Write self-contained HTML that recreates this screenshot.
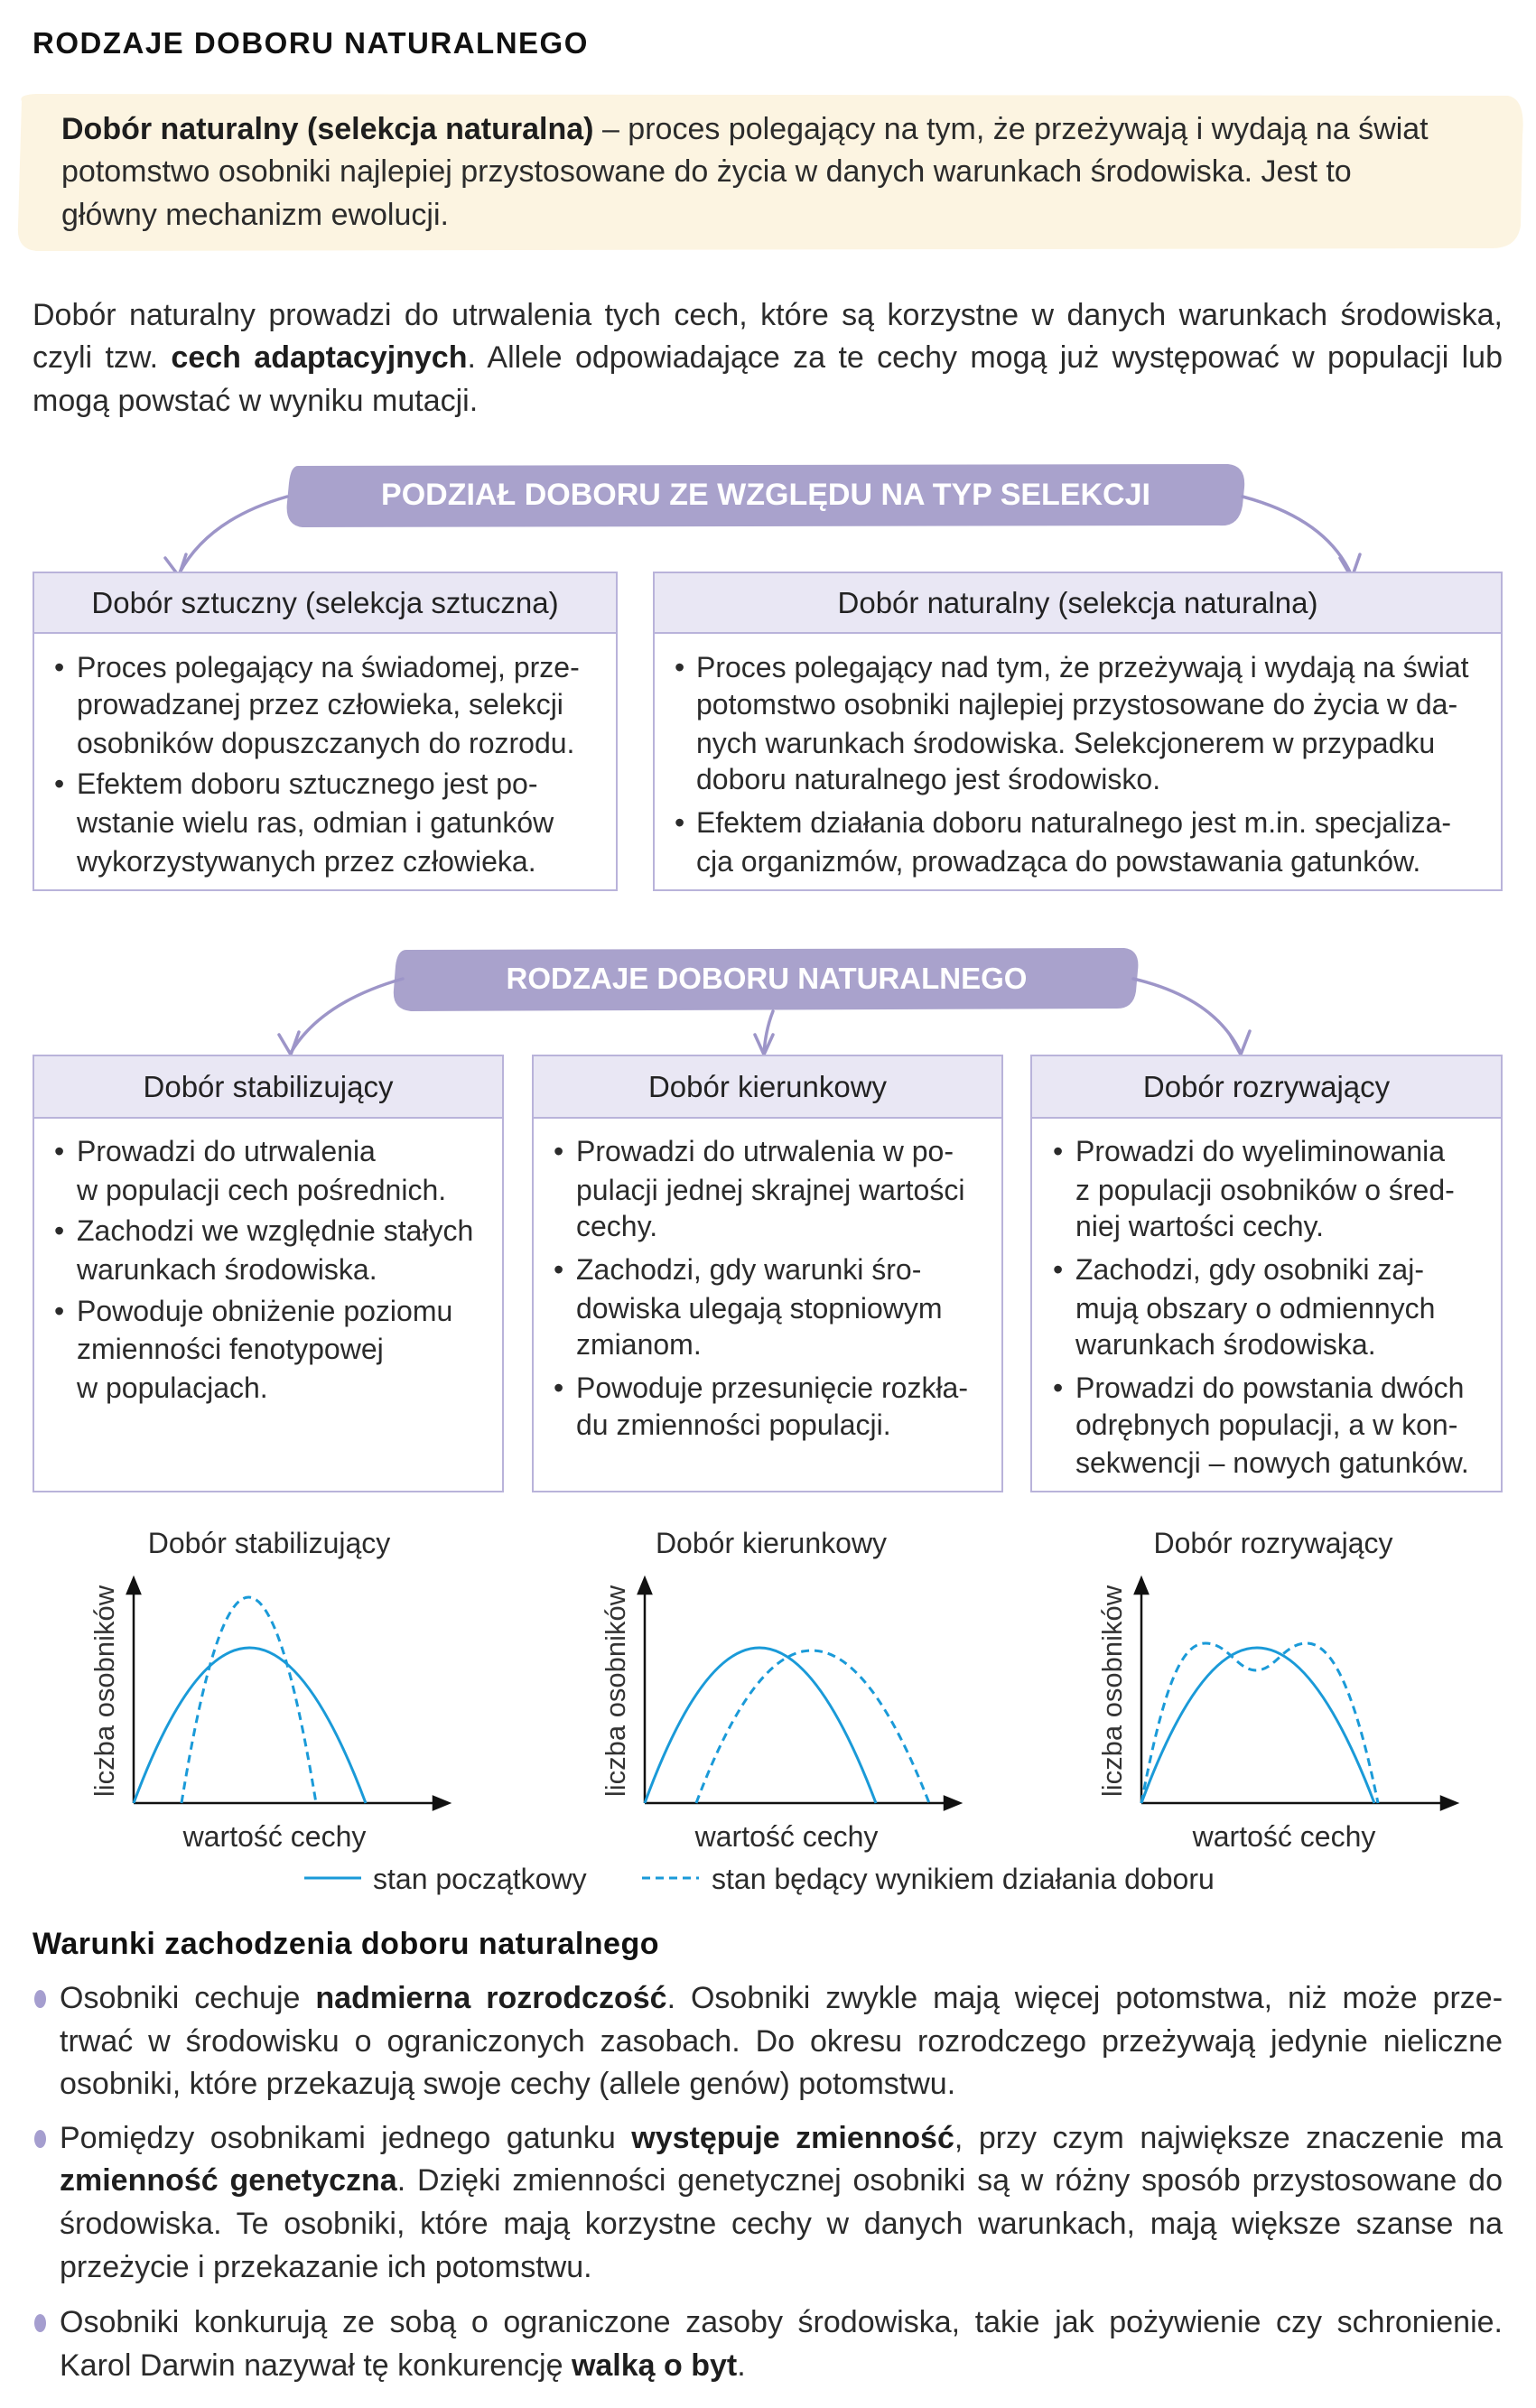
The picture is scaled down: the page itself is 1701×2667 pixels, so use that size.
<!DOCTYPE html>
<html><head><meta charset="utf-8">
<style>
body{margin:0;background:#fff;}
#p{position:relative;width:1701px;height:2667px;overflow:hidden;font-family:"Liberation Sans",sans-serif;color:#2b2b2b;}
.l{position:absolute;white-space:nowrap;line-height:1;}
.j{text-align:justify;text-align-last:justify;white-space:normal;}
b{font-weight:bold;color:#1e1e1e}
.box{position:absolute;border:2px solid #b9b3da;background:#fff;box-sizing:border-box;}
.hd{position:absolute;left:0;right:0;top:0;background:#e9e7f4;border-bottom:2px solid #b9b3da;box-sizing:border-box;font-size:33px;display:flex;align-items:center;justify-content:center;color:#222;}
.bt{font-size:32px;}
.dot{position:absolute;width:13px;height:20px;border-radius:50%;background:#a59ecf;}
</style></head><body><div id="p">
<svg width="1701" height="2667" style="position:absolute;left:0;top:0">
<path d="M24 112 Q20 105 40 104 L1670 106 Q1690 110 1686 150 L1684 250 Q1680 276 1650 275 L40 278 Q18 276 20 250 Z" fill="#fcf4e1"/>
<path d="M330 516 L1360 514 Q1380 516 1378 540 L1376 560 Q1372 584 1350 582 L335 584 Q315 582 318 556 L320 535 Q322 516 330 516Z" fill="#a9a2cc"/>
<path d="M450 1052 L1245 1050 Q1263 1052 1260 1075 L1258 1098 Q1255 1118 1235 1117 L455 1120 Q434 1118 436 1096 L438 1070 Q440 1052 450 1052Z" fill="#a9a2cc"/>
<g fill="none" stroke="#9d95c8" stroke-width="3.5" stroke-linecap="round">
<path d="M318 550 Q230 575 198 636"/><path d="M183 618 L198 638 L206 614"/>
<path d="M1376 550 Q1470 575 1497 638"/><path d="M1484 618 L1497 640 L1506 614"/>
<path d="M446 1084 Q355 1110 322 1166"/><path d="M309 1146 L322 1168 L331 1143"/>
<path d="M856 1120 Q848 1140 846 1166"/><path d="M836 1146 L846 1168 L856 1146"/>
<path d="M1255 1084 Q1345 1105 1374 1166"/><path d="M1362 1146 L1374 1168 L1384 1142"/>
</g>
<g stroke="#111" stroke-width="2.5" fill="#111">
<line x1="148" y1="1997" x2="148" y2="1760"/><path d="M141 1765 L148 1748 L155 1765Z"/>
<line x1="148" y1="1997" x2="485" y2="1997"/><path d="M480 1990 L497 1997 L480 2004Z"/>
<line x1="714" y1="1997" x2="714" y2="1760"/><path d="M707 1765 L714 1748 L721 1765Z"/>
<line x1="714" y1="1997" x2="1051" y2="1997"/><path d="M1046 1990 L1063 1997 L1046 2004Z"/>
<line x1="1264" y1="1997" x2="1264" y2="1760"/><path d="M1257 1765 L1264 1748 L1271 1765Z"/>
<line x1="1264" y1="1997" x2="1601" y2="1997"/><path d="M1596 1990 L1613 1997 L1596 2004Z"/>
</g>
<g fill="none" stroke="#1a9ad8" stroke-width="3">
<path d="M148 1997 Q276 1653 405 1997"/>
<path d="M201 1997 Q275 1541 350 1997" stroke-dasharray="9 6"/>
<path d="M714 1997 Q840 1653 970 1997"/>
<path d="M771 1997 Q898 1659 1029 1997" stroke-dasharray="9 6"/>
<path d="M1264 1997 Q1391 1653 1522 1997"/>
<path d="M1264 1997 C1290 1860 1310 1820 1335 1820 C1360 1820 1370 1850 1391 1850 C1412 1850 1422 1820 1447 1820 C1472 1820 1498 1860 1526 1997" stroke-dasharray="9 6"/>
<line x1="337" y1="2080" x2="400" y2="2080"/>
<line x1="711" y1="2080" x2="774" y2="2080" stroke-dasharray="9 6"/>
</g>
<g font-family="Liberation Sans,sans-serif" font-size="31" fill="#333">
<text transform="translate(126 1873) rotate(-90)" text-anchor="middle">liczba osobników</text>
<text transform="translate(692 1873) rotate(-90)" text-anchor="middle">liczba osobników</text>
<text transform="translate(1242 1873) rotate(-90)" text-anchor="middle">liczba osobników</text>
</g>
</svg>

<div class="l" style="left:36px;top:31px;font-size:33px;letter-spacing:1.5px;font-weight:bold;color:#111">RODZAJE DOBORU NATURALNEGO</div>

<div style="font-size:34px">
<div class="l" style="left:68px;top:126px"><b>Dobór naturalny (selekcja naturalna)</b> – proces polegający na tym, że przeżywają i wydają na świat</div>
<div class="l" style="left:68px;top:173px">potomstwo osobniki najlepiej przystosowane do życia w danych warunkach środowiska. Jest to</div>
<div class="l" style="left:68px;top:221px">główny mechanizm ewolucji.</div>

<div class="l j" style="left:36px;width:1628px;top:332px">Dobór naturalny prowadzi do utrwalenia tych cech, które są korzystne w danych warunkach środowiska,</div>
<div class="l j" style="left:36px;width:1628px;top:379px">czyli tzw. <b>cech adaptacyjnych</b>. Allele odpowiadające za te cechy mogą już występować w populacji lub</div>
<div class="l" style="left:36px;top:427px">mogą powstać w wyniku mutacji.</div>
</div>

<div class="l" style="left:0;width:1696px;text-align:center;top:531px;font-size:34px;font-weight:bold;color:#fff">PODZIAŁ DOBORU ZE WZGLĘDU NA TYP SELEKCJI</div>

<div class="box" style="left:36px;top:633px;width:648px;height:354px"><div class="hd" style="height:67px">Dobór sztuczny (selekcja sztuczna)</div></div>
<div class="box" style="left:723px;top:633px;width:941px;height:354px"><div class="hd" style="height:67px">Dobór naturalny (selekcja naturalna)</div></div>

<div class="bt">
<div class="l" style="left:60px;top:723px">•</div>
<div class="l" style="left:85px;top:723px">Proces polegający na świadomej, prze-</div>
<div class="l" style="left:85px;top:764px">prowadzanej przez człowieka, selekcji</div>
<div class="l" style="left:85px;top:807px">osobników dopuszczanych do rozrodu.</div>
<div class="l" style="left:60px;top:852px">•</div>
<div class="l" style="left:85px;top:852px">Efektem doboru sztucznego jest po-</div>
<div class="l" style="left:85px;top:895px">wstanie wielu ras, odmian i gatunków</div>
<div class="l" style="left:85px;top:938px">wykorzystywanych przez człowieka.</div>

<div class="l" style="left:747px;top:723px">•</div>
<div class="l" style="left:771px;top:723px">Proces polegający nad tym, że przeżywają i wydają na świat</div>
<div class="l" style="left:771px;top:764px">potomstwo osobniki najlepiej przystosowane do życia w da-</div>
<div class="l" style="left:771px;top:807px">nych warunkach środowiska. Selekcjonerem w przypadku</div>
<div class="l" style="left:771px;top:847px">doboru naturalnego jest środowisko.</div>
<div class="l" style="left:747px;top:895px">•</div>
<div class="l" style="left:771px;top:895px">Efektem działania doboru naturalnego jest m.in. specjaliza-</div>
<div class="l" style="left:771px;top:938px">cja organizmów, prowadząca do powstawania gatunków.</div>
</div>

<div class="l" style="left:0;width:1698px;text-align:center;top:1067px;font-size:33px;font-weight:bold;color:#fff">RODZAJE DOBORU NATURALNEGO</div>

<div class="box" style="left:36px;top:1168px;width:522px;height:485px"><div class="hd" style="height:69px">Dobór stabilizujący</div></div>
<div class="box" style="left:589px;top:1168px;width:522px;height:485px"><div class="hd" style="height:69px">Dobór kierunkowy</div></div>
<div class="box" style="left:1141px;top:1168px;width:523px;height:485px"><div class="hd" style="height:69px">Dobór rozrywający</div></div>

<div class="bt">
<div class="l" style="left:60px;top:1259px">•</div>
<div class="l" style="left:85px;top:1259px">Prowadzi do utrwalenia</div>
<div class="l" style="left:85px;top:1302px">w populacji cech pośrednich.</div>
<div class="l" style="left:60px;top:1347px">•</div>
<div class="l" style="left:85px;top:1347px">Zachodzi we względnie stałych</div>
<div class="l" style="left:85px;top:1390px">warunkach środowiska.</div>
<div class="l" style="left:60px;top:1436px">•</div>
<div class="l" style="left:85px;top:1436px">Powoduje obniżenie poziomu</div>
<div class="l" style="left:85px;top:1478px">zmienności fenotypowej</div>
<div class="l" style="left:85px;top:1521px">w populacjach.</div>

<div class="l" style="left:613px;top:1259px">•</div>
<div class="l" style="left:638px;top:1259px">Prowadzi do utrwalenia w po-</div>
<div class="l" style="left:638px;top:1302px">pulacji jednej skrajnej wartości</div>
<div class="l" style="left:638px;top:1342px">cechy.</div>
<div class="l" style="left:613px;top:1390px">•</div>
<div class="l" style="left:638px;top:1390px">Zachodzi, gdy warunki śro-</div>
<div class="l" style="left:638px;top:1433px">dowiska ulegają stopniowym</div>
<div class="l" style="left:638px;top:1473px">zmianom.</div>
<div class="l" style="left:613px;top:1521px">•</div>
<div class="l" style="left:638px;top:1521px">Powoduje przesunięcie rozkła-</div>
<div class="l" style="left:638px;top:1562px">du zmienności populacji.</div>

<div class="l" style="left:1166px;top:1259px">•</div>
<div class="l" style="left:1191px;top:1259px">Prowadzi do wyeliminowania</div>
<div class="l" style="left:1191px;top:1302px">z populacji osobników o śred-</div>
<div class="l" style="left:1191px;top:1342px">niej wartości cechy.</div>
<div class="l" style="left:1166px;top:1390px">•</div>
<div class="l" style="left:1191px;top:1390px">Zachodzi, gdy osobniki zaj-</div>
<div class="l" style="left:1191px;top:1433px">mują obszary o odmiennych</div>
<div class="l" style="left:1191px;top:1473px">warunkach środowiska.</div>
<div class="l" style="left:1166px;top:1521px">•</div>
<div class="l" style="left:1191px;top:1521px">Prowadzi do powstania dwóch</div>
<div class="l" style="left:1191px;top:1562px">odrębnych populacji, a w kon-</div>
<div class="l" style="left:1191px;top:1604px">sekwencji – nowych gatunków.</div>

<div class="l" style="left:98px;width:400px;text-align:center;top:1693px">Dobór stabilizujący</div>
<div class="l" style="left:654px;width:400px;text-align:center;top:1693px">Dobór kierunkowy</div>
<div class="l" style="left:1210px;width:400px;text-align:center;top:1693px">Dobór rozrywający</div>
<div class="l" style="left:104px;width:400px;text-align:center;top:2018px">wartość cechy</div>
<div class="l" style="left:671px;width:400px;text-align:center;top:2018px">wartość cechy</div>
<div class="l" style="left:1222px;width:400px;text-align:center;top:2018px">wartość cechy</div>
<div class="l" style="left:413px;top:2065px">stan początkowy</div>
<div class="l" style="left:788px;top:2065px">stan będący wynikiem działania doboru</div>
</div>

<div class="l" style="left:36px;top:2136px;font-size:34px;letter-spacing:0.5px;font-weight:bold;color:#111">Warunki zachodzenia doboru naturalnego</div>

<div style="font-size:34px">
<div class="dot" style="left:38px;top:2204px"></div>
<div class="l j" style="left:66px;width:1598px;top:2196px">Osobniki cechuje <b>nadmierna rozrodczość</b>. Osobniki zwykle mają więcej potomstwa, niż może prze-</div>
<div class="l j" style="left:66px;width:1598px;top:2244px">trwać w środowisku o ograniczonych zasobach. Do okresu rozrodczego przeżywają jedynie nieliczne</div>
<div class="l" style="left:66px;top:2291px">osobniki, które przekazują swoje cechy (allele genów) potomstwu.</div>
<div class="dot" style="left:38px;top:2359px"></div>
<div class="l j" style="left:66px;width:1598px;top:2351px">Pomiędzy osobnikami jednego gatunku <b>występuje zmienność</b>, przy czym największe znaczenie ma</div>
<div class="l j" style="left:66px;width:1598px;top:2398px"><b>zmienność genetyczna</b>. Dzięki zmienności genetycznej osobniki są w różny sposób przystosowane do</div>
<div class="l j" style="left:66px;width:1598px;top:2446px">środowiska. Te osobniki, które mają korzystne cechy w danych warunkach, mają większe szanse na</div>
<div class="l" style="left:66px;top:2494px">przeżycie i przekazanie ich potomstwu.</div>
<div class="dot" style="left:38px;top:2563px"></div>
<div class="l j" style="left:66px;width:1598px;top:2555px">Osobniki konkurują ze sobą o ograniczone zasoby środowiska, takie jak pożywienie czy schronienie.</div>
<div class="l" style="left:66px;top:2603px">Karol Darwin nazywał tę konkurencję <b>walką o byt</b>.</div>
</div>
</div></body></html>
